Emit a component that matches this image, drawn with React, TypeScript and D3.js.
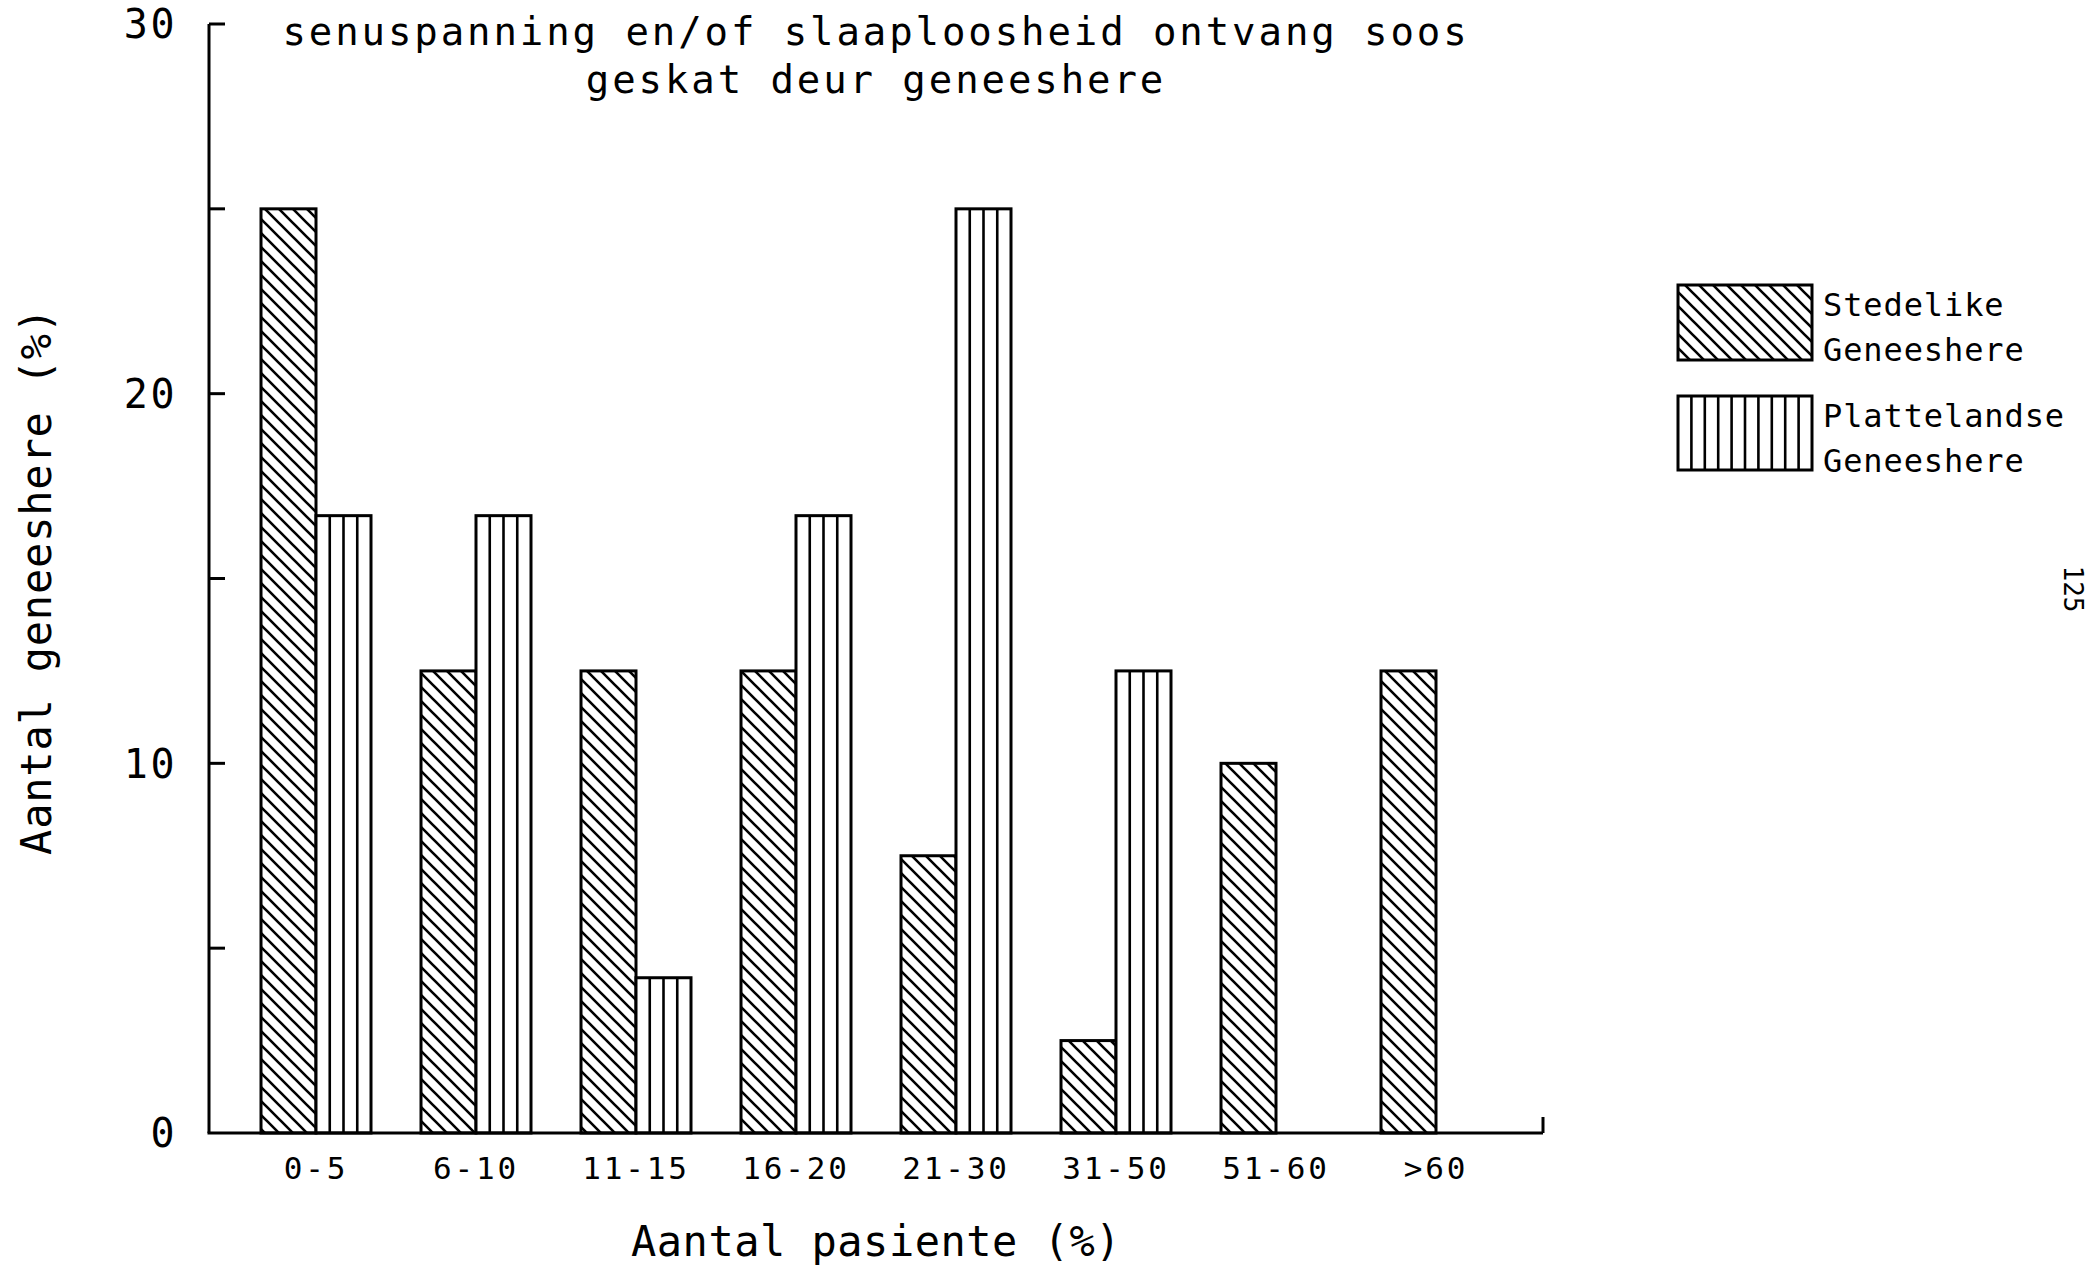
import React from "react";
import * as d3 from "d3";

const categories = ["0-5", "6-10", "11-15", "16-20", "21-30", "31-50", "51-60", ">60"];
const stedelike = [25, 12.5, 12.5, 12.5, 7.5, 2.5, 10, 12.5];
const plattelandse = [16.7, 16.7, 4.2, 16.7, 25, 12.5, 0, 0];
const seriesKeys = ["stedelike", "plattelandse"];
const legendLines = [
  ["Stedelike", "Geneeshere"],
  ["Plattelandse", "Geneeshere"],
];
const yTickValues = [5, 10, 15, 20, 25, 30];
const yLabelValues = [0, 10, 20, 30];
const titleLines = ["senuspanning en/of slaaploosheid ontvang soos", "geskat deur geneeshere"];
const xAxisTitle = "Aantal pasiente (%)";
const yAxisTitle = "Aantal geneeshere (%)";
const pageNumber = "125";

const W = 2091;
const H = 1270;
const FONT = "'DejaVu Sans Mono', 'Liberation Mono', monospace";

export default function App() {
  const x0 = 209;
  const x1 = 1543;
  const yBase = 1133;
  const yTop = 24;

  const x = d3
    .scaleBand<string>()
    .domain(categories)
    .range([x0, x1])
    .paddingInner(0.3125)
    .paddingOuter(0.325);
  const xs = d3.scaleBand<string>().domain(seriesKeys).range([0, x.bandwidth()]).padding(0);
  const y = d3.scaleLinear().domain([0, 30]).range([yBase, yTop]);

  const data = categories.map((c, i) => ({ c, s: stedelike[i], p: plattelandse[i] }));
  const bw = xs.bandwidth();

  const vLines = (bx: number, by: number, w: number, h: number, n: number, key: string) =>
    d3.range(1, n).map((k) => (
      <line
        key={key + k}
        x1={bx + (w * k) / n}
        x2={bx + (w * k) / n}
        y1={by}
        y2={by + h}
        stroke="#000"
        strokeWidth={2.6}
      />
    ));

  const legX = 1678;
  const legW = 134;
  const legBoxes = [
    { y: 285, h: 75 },
    { y: 396, h: 74 },
  ];

  return (
    <svg
      width={W}
      height={H}
      style={{ position: "absolute", left: 0, top: 0, background: "#fff" }}
      fontFamily={FONT}
    >
      <defs>
        <pattern id="diag" patternUnits="userSpaceOnUse" width={14} height={14}>
          <path
            d="M0,0 L14,14 M-7,7 L7,21 M7,-7 L21,7"
            stroke="#000"
            strokeWidth={2.6}
            fill="none"
          />
        </pattern>
      </defs>
      <rect x={0} y={0} width={W} height={H} fill="#fff" />

      {/* title */}
      {titleLines.map((t, i) => (
        <text
          key={t}
          x={(x0 + x1) / 2}
          y={45 + i * 48}
          textAnchor="middle"
          fontSize={39}
          letterSpacing={2.9}
          fill="#000"
        >
          {t}
        </text>
      ))}

      {/* bars */}
      {data.map((d) => {
        const gx = x(d.c)!;
        const sx = gx + xs("stedelike")!;
        const px = gx + xs("plattelandse")!;
        const sy = y(d.s);
        const py = y(d.p);
        return (
          <g key={d.c}>
            {d.s > 0 && (
              <rect
                x={sx}
                y={sy}
                width={bw}
                height={yBase - sy}
                fill="url(#diag)"
                stroke="#000"
                strokeWidth={3}
              />
            )}
            {d.p > 0 && (
              <g>
                <rect x={px} y={py} width={bw} height={yBase - py} fill="#fff" stroke="#000" strokeWidth={3} />
                {vLines(px, py, bw, yBase - py, 4, d.c)}
              </g>
            )}
          </g>
        );
      })}

      {/* axes */}
      <line x1={x0} x2={x0} y1={yTop} y2={yBase} stroke="#000" strokeWidth={3} />
      <line x1={x0 - 1.5} x2={x1} y1={yBase} y2={yBase} stroke="#000" strokeWidth={3} />
      <line x1={x1} x2={x1} y1={yBase} y2={yBase - 16} stroke="#000" strokeWidth={3} />
      {yTickValues.map((v) => (
        <line key={v} x1={x0} x2={x0 + 16} y1={y(v)} y2={y(v)} stroke="#000" strokeWidth={3} />
      ))}
      {yLabelValues.map((v) => (
        <text
          key={v}
          x={177}
          y={y(v)}
          dy="0.36em"
          textAnchor="end"
          fontSize={40}
          letterSpacing={2.5}
          fill="#000"
        >
          {v}
        </text>
      ))}
      {categories.map((c) => (
        <text
          key={c}
          x={x(c)! + x.bandwidth() / 2}
          y={1179}
          textAnchor="middle"
          fontSize={31}
          letterSpacing={2.8}
          fill="#000"
        >
          {c}
        </text>
      ))}

      {/* axis titles */}
      <text x={(x0 + x1) / 2} y={1256} textAnchor="middle" fontSize={42} letterSpacing={0.5} fill="#000">
        {xAxisTitle}
      </text>
      <text
        transform={`translate(51,581) rotate(-90)`}
        textAnchor="middle"
        fontSize={42}
        letterSpacing={0.8}
        fill="#000"
      >
        {yAxisTitle}
      </text>

      {/* legend */}
      {legBoxes.map((b, i) => (
        <g key={i}>
          <rect
            x={legX}
            y={b.y}
            width={legW}
            height={b.h}
            fill={i === 0 ? "url(#diag)" : "#fff"}
            stroke="#000"
            strokeWidth={3}
          />
          {i === 1 && vLines(legX, b.y, legW, b.h, 10, "leg")}
          {legendLines[i].map((t, j) => (
            <text key={t + j} x={1823} y={b.y + 31 + j * 45} fontSize={32} letterSpacing={0.9} fill="#000">
              {t}
            </text>
          ))}
        </g>
      ))}

      {/* page number */}
      <text transform={`translate(2064,589) rotate(90)`} textAnchor="middle" fontSize={26} fill="#000">
        {pageNumber}
      </text>
    </svg>
  );
}
